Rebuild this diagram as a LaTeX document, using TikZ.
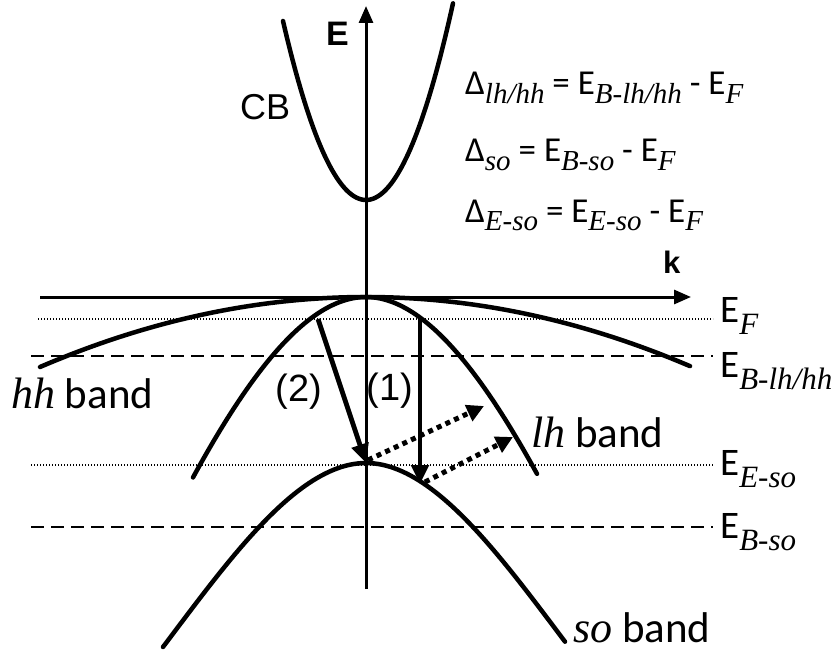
\documentclass[tikz,border=0pt]{standalone}
\usepackage{fontspec}
\setmainfont{Carlito}
\newfontfamily\tnr{Liberation Serif}
\newfontfamily\arl{Liberation Sans}
\usetikzlibrary{arrows.meta}
\newcommand{\Rs}[1]{\raisebox{-12pt}{\fontsize{31}{34}\selectfont\tnr\itshape #1}}
\newcommand{\Es}[1]{\raisebox{-9pt}{\fontsize{29}{31}\selectfont\tnr\itshape #1}}
\newcommand{\It}[1]{{\fontsize{44}{46}\selectfont\tnr\itshape #1}}
\begin{document}
\begin{tikzpicture}[x=1pt,y=-1pt,
  bandline/.style={line width=4.5pt, line cap=round},
  axisline/.style={line width=3pt, -{Triangle[length=17pt,width=14pt]}},
  fermi/.style={line width=1.3pt, dash pattern=on 1.3pt off 1.7pt},
  blevel/.style={line width=2.2pt, dash pattern=on 13pt off 7pt},
  trans/.style={line width=4.8pt, -{Triangle[length=19pt,width=17pt]}},
  relax/.style={line width=5pt, dash pattern=on 5pt off 4.5pt, -{Triangle[length=17pt,width=17pt]}},
  lbl/.style={anchor=base west, inner sep=0pt, font=\fontsize{39}{44}\selectfont},
  bnd/.style={anchor=base west, inner sep=0pt, font=\fontsize{43}{46}\selectfont},
  eq/.style={anchor=base west, inner sep=0pt, font=\fontsize{35}{40}\selectfont},
  arl/.style={inner sep=0pt, font=\arl\fontsize{38}{44}\selectfont},
  axl/.style={anchor=base west, inner sep=0pt, font=\arl\bfseries\fontsize{34}{38}\selectfont}]
\useasboundingbox (0,0) rectangle (837,655);

% energy levels
\coordinate (fL) at (38,319);  \coordinate (fR) at (713,319);
\coordinate (bL) at (31,356);  \coordinate (bR) at (713,356);
\coordinate (eL) at (31,465);  \coordinate (eR) at (713,465);
\coordinate (sL) at (31,527);  \coordinate (sR) at (713,527);
\draw[fermi] (fL) -- (fR);
\draw[blevel] (bL) -- (bR);
\draw[fermi] (eL) -- (eR);
\draw[blevel] (sL) -- (sR);

% axes
\coordinate (ebot) at (366,589); \coordinate (etop) at (366,6);
\coordinate (kL) at (40,297); \coordinate (kR) at (691,297);
\draw[axisline] (ebot) -- (etop);
\draw[axisline] (kL) -- (kR);

% bands
\draw[bandline] plot[domain=-83:87, samples=80] ({366+\x},{200-179*(\x/83)*(\x/83)});
\draw[bandline] plot[domain=-326:324, samples=100] ({366+\x},{297+70*(\x/326)*(\x/326)});
\draw[bandline] plot[domain=-173:171, samples=100] ({366+\x},{297+219.3*(\x/171)*(\x/171)-42.5*abs(\x/171)*(\x/171)*(\x/171)});
\draw[bandline] plot[domain=-203:199, samples=100] ({366+\x},{463+274.4*(\x/200)*(\x/200)-94.4*abs(\x/200)*(\x/200)*(\x/200)});

% transitions
\coordinate (p2s) at (318,319); \coordinate (p2e) at (366,463);
\coordinate (p1s) at (420,318); \coordinate (p1e) at (420,484);
\coordinate (r1s) at (368,460); \coordinate (r1e) at (484,406);
\coordinate (r2s) at (425,482); \coordinate (r2e) at (513,437);
\draw[trans] (p2s) -- (p2e);
\draw[trans] (p1s) -- (p1e);
\draw[relax] (r1s) -- (r1e);
\draw[relax] (r2s) -- (r2e);

% labels
\node[axl] (elab) at (326,46) {E};
\node[axl, font=\arl\bfseries\fontsize{31}{36}\selectfont] (klab) at (663,273) {k};
\node[arl, anchor=base west, font=\arl\fontsize{36}{40}\selectfont] (cb) at (240,120) {CB};
\node[arl] (l2) at (299,392) {(2)};
\node[arl] (l1) at (390,391) {(1)};
\node[bnd] (hh) at (11,408) {\It{hh} band};
\node[bnd] (lh) at (531,447) {\It{lh} band};
\node[bnd] (so) at (573,642) {\It{so} band};

\node[lbl] (ef) at (720,322) {E\Rs{F}};
\node[lbl] (eb) at (720,377) {E\Rs{B-lh/hh}};
\node[lbl] (ee) at (720,475) {E\Rs{E-so}};
\node[lbl] (ebs) at (720,538) {E\Rs{B-so}};

\node[eq] (d1) at (465,95) {Δ\Es{lh/hh} = E\Es{B-lh/hh} - E\Es{F}};
\node[eq] (d2) at (465,162) {Δ\Es{so} = E\Es{B-so} - E\Es{F}};
\node[eq] (d3) at (465,222) {Δ\Es{E-so} = E\Es{E-so} - E\Es{F}};
\end{tikzpicture}
\end{document}
